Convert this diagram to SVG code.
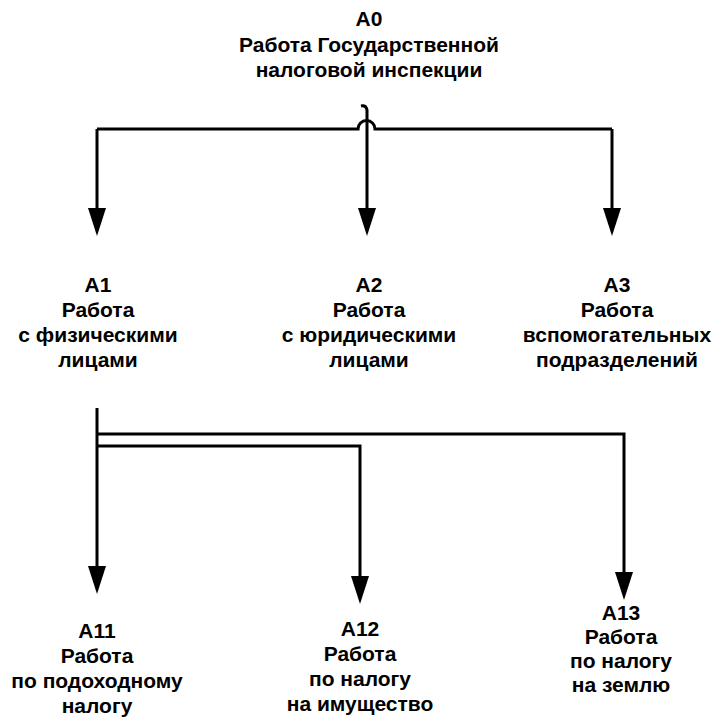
<svg xmlns="http://www.w3.org/2000/svg" width="712" height="722" viewBox="0 0 712 722">
  <style>
    .lbl { font-family: "Liberation Sans", Arial, sans-serif; font-weight: bold; font-size: 21px; fill: #000; text-anchor: middle; }
    .wire { fill: none; stroke: #000; stroke-width: 3; stroke-linejoin: miter; }
    .head { fill: #000; }
  </style>
  <rect width="712" height="722" fill="#fff"/>

  <g id="connectors">
    <!-- A0 decomposition: bus with a hop over the central drop -->
    <path class="wire" d="M97,129 H358 A8,8 0 0 1 375,129 H612"/>
    <path class="wire" d="M97,129 V208"/>
    <path class="wire" d="M612,129 V208"/>
    <path class="wire" d="M361,106 Q366,105 367,110 V208"/>
    <!-- A1 decomposition -->
    <path class="wire" d="M97,408 V566"/>
    <path class="wire" d="M97,434 H624 V572"/>
    <path class="wire" d="M97,446 H360 V576"/>
    <!-- arrowheads -->
    <path class="head" d="M88,208 L106,208 L97,236 Z"/>
    <path class="head" d="M358,208 L376,208 L367,236 Z"/>
    <path class="head" d="M603,208 L621,208 L612,236 Z"/>
    <path class="head" d="M88,566 L106,566 L97,594 Z"/>
    <path class="head" d="M351,576 L369,576 L360,604 Z"/>
    <path class="head" d="M615,572 L633,572 L624,600 Z"/>
  </g>

  <g id="A0">
    <text class="lbl" x="369" y="26">А0</text>
    <text class="lbl" x="369" y="52">Работа Государственной</text>
    <text class="lbl" x="369" y="77">налоговой инспекции</text>
  </g>
  <g id="A1">
    <text class="lbl" x="98" y="292">А1</text>
    <text class="lbl" x="98" y="317">Работа</text>
    <text class="lbl" x="98" y="342">с физическими</text>
    <text class="lbl" x="98" y="367">лицами</text>
  </g>
  <g id="A2">
    <text class="lbl" x="369" y="292">А2</text>
    <text class="lbl" x="369" y="317">Работа</text>
    <text class="lbl" x="369" y="342">с юридическими</text>
    <text class="lbl" x="369" y="367">лицами</text>
  </g>
  <g id="A3">
    <text class="lbl" x="617" y="292">А3</text>
    <text class="lbl" x="617" y="317">Работа</text>
    <text class="lbl" x="617" y="342">вспомогательных</text>
    <text class="lbl" x="617" y="367">подразделений</text>
  </g>
  <g id="A11">
    <text class="lbl" x="97" y="638">А11</text>
    <text class="lbl" x="97" y="663">Работа</text>
    <text class="lbl" x="97" y="688">по подоходному</text>
    <text class="lbl" x="97" y="713">налогу</text>
  </g>
  <g id="A12">
    <text class="lbl" x="360" y="636">А12</text>
    <text class="lbl" x="360" y="661">Работа</text>
    <text class="lbl" x="360" y="686">по налогу</text>
    <text class="lbl" x="360" y="711">на имущество</text>
  </g>
  <g id="A13">
    <text class="lbl" x="621" y="620">А13</text>
    <text class="lbl" x="621" y="644">Работа</text>
    <text class="lbl" x="621" y="668">по налогу</text>
    <text class="lbl" x="621" y="692">на землю</text>
  </g>
</svg>
